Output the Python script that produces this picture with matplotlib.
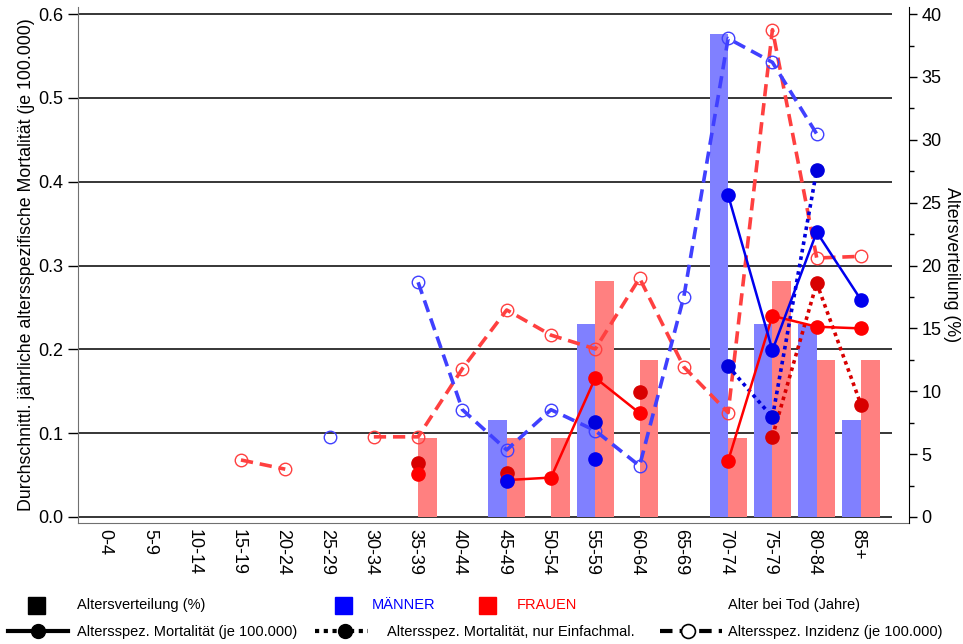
import numpy as np
import matplotlib
matplotlib.use("Agg")
import matplotlib.pyplot as plt
import matplotlib.transforms as mtransforms
from matplotlib.patches import Rectangle
from matplotlib.ticker import FormatStrFormatter, MultipleLocator

plt.rcParams['font.family'] = ['Liberation Sans', 'DejaVu Sans']

nan = np.nan
ages = ['0-4', '5-9', '10-14', '15-19', '20-24', '25-29', '30-34', '35-39', '40-44',
        '45-49', '50-54', '55-59', '60-64', '65-69', '70-74', '75-79', '80-84', '85+']

# Altersverteilung (%)
vert_m = [0, 0, 0, 0, 0, 0, 0, 0, 0, 7.69, 0, 15.38, 0, 0, 38.46, 15.38, 15.38, 7.69]
vert_f = [0, 0, 0, 0, 0, 0, 0, 6.25, 0, 6.25, 6.25, 18.75, 12.5, 0, 6.25, 18.75, 12.5, 12.5]

# Altersspez. Mortalitaet (je 100.000)
mort_m = [nan, nan, nan, nan, nan, nan, nan, nan, nan, 0.043, nan, 0.069, nan, nan, 0.384, 0.199, 0.340, 0.259]
mort_f = [nan, nan, nan, nan, nan, nan, nan, 0.051, nan, 0.044, 0.047, 0.166, 0.124, nan, 0.067, 0.240, 0.227, 0.225]

# nur Einfachmalignome
einf_m = [nan, nan, nan, nan, nan, nan, nan, nan, nan, nan, nan, 0.113, nan, nan, 0.180, 0.119, 0.414, nan]
einf_f = [nan, nan, nan, nan, nan, nan, nan, 0.064, nan, 0.053, nan, nan, 0.149, nan, nan, 0.096, 0.279, 0.134]

# Inzidenz (je 100.000)
inz_m = [nan, nan, nan, nan, nan, 0.0956, nan, 0.280, 0.128, 0.080, 0.128, 0.103, 0.061, 0.263, 0.571, 0.5425, 0.457, nan]
inz_f = [nan, nan, nan, 0.068, 0.057, nan, 0.0956, 0.0956, 0.177, 0.247, 0.217, 0.2005, 0.285, 0.179, 0.1245, 0.5815, 0.309, 0.311]

x = np.arange(len(ages))
w = 0.42

fig = plt.figure(figsize=(9.63, 6.44), dpi=100)
ax = fig.add_axes([0.0813, 0.1879, 0.8626, 0.8012])
ax2 = ax.twinx()
ax3 = ax.twinx()
ax.set_zorder(1)
ax2.set_zorder(2)
ax3.set_zorder(3)
ax2.patch.set_visible(False)
ax3.patch.set_visible(False)

xl = (-0.673, 18.083)
yl = (-0.0072, 0.6085)
ax.set_xlim(xl)
ax.set_ylim(yl)
ax3.set_ylim(yl)
ax2.set_ylim(yl[0] * 40 / 0.6, yl[1] * 40 / 0.6)

# gridlines
ax.hlines(np.arange(0, 0.61, 0.1), xl[0], 17.70, color='black', lw=1.1)

# bars
ax2.bar(x - w / 2, vert_m, w, color='#8080FF', linewidth=0)
ax2.bar(x + w / 2, vert_f, w, color='#FF8080', linewidth=0)

# lines
dash = dict(lw=2.6, dashes=(3.4, 1.9), marker='o', ms=9, mfc='none', mew=1.0)
ax3.plot(x, inz_f, color='#FF4040', **dash)
ax3.plot(x, inz_m, color='#4040FF', **dash)
dot = dict(lw=2.6, dashes=(1, 1.1), marker='o', ms=9.5)
ax3.plot(x, einf_f, color='#D80000', **dot)
ax3.plot(x, einf_m, color='#0000DD', **dot)
ax3.plot(x, mort_f, color='#FF0000', lw=1.8, marker='o', ms=9.5)
ax3.plot(x, mort_m, color='#0000EE', lw=1.8, marker='o', ms=9.5)

# axes styling
for a in (ax, ax2, ax3):
    a.spines['top'].set_visible(False)
ax.spines['left'].set_color('#707070')
ax.spines['bottom'].set_color('#707070')
ax.spines['right'].set_visible(False)
for s in ('left', 'bottom', 'right'):
    ax3.spines[s].set_visible(False)
ax2.spines['left'].set_visible(False)
ax2.spines['bottom'].set_visible(False)
ax2.spines['right'].set_color('black')

fs_tick = 13
ax.set_yticks(np.arange(0, 0.61, 0.1))
ax.yaxis.set_major_formatter(FormatStrFormatter('%.1f'))
ax.tick_params(axis='y', length=7, width=1, labelsize=fs_tick, pad=4)
ax.set_xticks(x)
ax.set_xticklabels(ages, rotation=270)
ax.tick_params(axis='x', length=0, labelsize=fs_tick, pad=4)
shift = mtransforms.ScaledTranslation(-3 / 100, 0, fig.dpi_scale_trans)
for lab in ax.get_xticklabels():
    lab.set_transform(lab.get_transform() + shift)
ax3.set_yticks([])
ax2.yaxis.set_minor_locator(MultipleLocator(2.5))
ax2.set_yticks(np.arange(0, 41, 5))
ax2.tick_params(axis='y', which='major', length=6, width=1, labelsize=fs_tick, pad=3)
ax2.tick_params(axis='y', which='minor', length=3.5, width=1)

ax.set_ylabel('Durchschnittl. jährliche altersspezifische Mortalität (je 100.000)', fontsize=12.8)
ax.yaxis.set_label_coords(-0.052, 0.5)
ax2.set_ylabel('Altersverteilung (%)', fontsize=12.8, rotation=270, va='bottom')
ax2.yaxis.set_label_coords(1.041, 0.5)

# legend below the plot
leg = fig.add_axes([0, 0, 1, 1])
leg.set_xlim(0, 963)
leg.set_ylim(644, 0)
leg.axis('off')
leg.set_zorder(5)
fs = 10.5
leg.add_patch(Rectangle((28, 597), 17, 17, color='black'))
leg.text(77, 605, 'Altersverteilung (%)', fontsize=fs, va='center')
leg.add_patch(Rectangle((335, 597), 17, 17, color='#0000FF'))
leg.text(372, 605, 'MÄNNER', fontsize=fs, va='center', color='#0000FF')
leg.add_patch(Rectangle((479, 597), 17, 17, color='#FF0000'))
leg.text(517, 605, 'FRAUEN', fontsize=fs, va='center', color='#FF0000')
leg.text(728, 605, 'Alter bei Tod (Jahre)', fontsize=fs, va='center')

leg.plot([8, 68], [631, 631], color='black', lw=3)
leg.plot([38], [631], color='black', marker='o', ms=10)
leg.text(77, 632, 'Altersspez. Mortalität (je 100.000)', fontsize=fs, va='center')
leg.plot([315, 368], [631, 631], color='black', lw=3, dashes=(1, 1.1))
leg.plot([345], [631], color='black', marker='o', ms=10)
leg.text(387, 632, 'Altersspez. Mortalität, nur Einfachmal.', fontsize=fs, va='center')
leg.plot([660, 722], [631, 631], color='black', lw=3, dashes=(3, 1.7))
leg.plot([688], [631], color='black', marker='o', ms=10, mfc='white', mew=1.2)
leg.text(728, 632, 'Altersspez. Inzidenz (je 100.000)', fontsize=fs, va='center')

fig.savefig('out.png', dpi=100)
